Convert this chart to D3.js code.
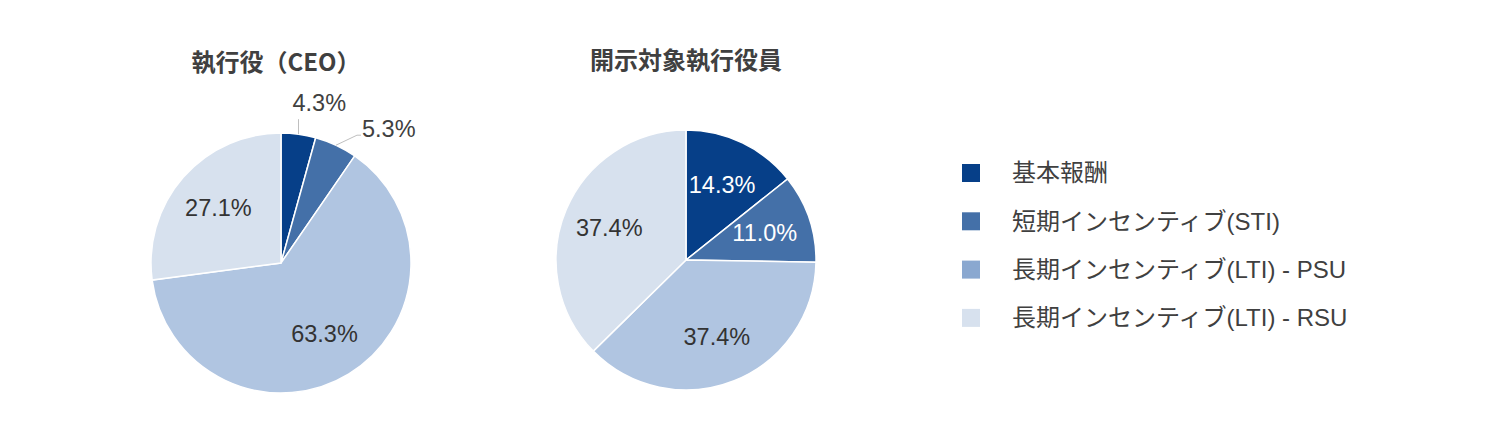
<!DOCTYPE html>
<html>
<head>
<meta charset="utf-8">
<script src="https://cdn.jsdelivr.net/npm/d3@7"></script>
<style>
  body { margin: 0; background: #fff; }
  text { font-family: "Liberation Sans", Arial, "Noto Sans CJK JP", sans-serif; }
</style>
</head>
<body>
<svg id="chart" width="1500" height="444"></svg>
<script>
var categories = ['基本報酬', '短期インセンティブ(STI)', '長期インセンティブ(LTI) - PSU', '長期インセンティブ(LTI) - RSU'];
var chartTitles = ['執行役（CEO）', '開示対象執行役員'];
var ceoValues = [4.3, 5.3, 63.3, 27.1];
var officerValues = [14.3, 11.0, 37.4, 37.4];
var sliceColors = ['#063f88', '#4470a8', '#b0c5e1', '#d7e1ee'];
var legendColors = ['#063f88', '#4470a8', '#8aa8d0', '#d7e1ee'];
var labelColors = [['#404040', '#404040', '#333', '#333'], ['#fff', '#fff', '#333', '#333']];

var svg = d3.select('#chart');
var radius = 130;
var fontSize = 23.5;

// one pie per panel
var panels = [
  {title: chartTitles[0], values: ceoValues, cx: 281, cy: 263, titleX: 276, titleY: 71, labelR: 0.64},
  {title: chartTitles[1], values: officerValues, cx: 686, cy: 260, titleX: 686, titleY: 69, labelR: 0.64}
];

var pie = d3.pie().sort(null).value(function(d){ return d; });
var arc = d3.arc().innerRadius(0).outerRadius(radius);

panels.forEach(function(p, pi){
  svg.append('text')
    .attr('x', p.titleX)
    .attr('y', p.titleY)
    .attr('text-anchor', 'middle')
    .attr('font-size', 24)
    .attr('font-weight', 'bold')
    .attr('fill', '#404040')
    .style('font-family', '"Noto Sans CJK JP", sans-serif')
    .text(p.title);

  var g = svg.append('g')
    .attr('transform', 'translate(' + p.cx + ',' + p.cy + ')');

  var arcs = pie(p.values);

  g.selectAll('path.slice')
    .data(arcs)
    .enter()
    .append('path')
    .attr('class', 'slice')
    .attr('d', arc)
    .attr('fill', function(d, i){ return sliceColors[i]; })
    .attr('stroke', '#fff')
    .attr('stroke-width', 1.5);

  var labelArc = d3.arc().innerRadius(radius * p.labelR).outerRadius(radius * p.labelR);

  arcs.forEach(function(d, i){
    var txt = d.data.toFixed(1) + '%';
    var mid = (d.startAngle + d.endAngle) / 2;
    if (d.data < 8) {
      // small slice: label outside with a leader line
      var x0 = Math.sin(mid) * radius, y0 = -Math.cos(mid) * radius;
      if (mid < 0.25) {
        g.append('line')
          .attr('x1', x0).attr('y1', y0)
          .attr('x2', x0).attr('y2', y0 - 15)
          .attr('stroke', '#bfbfbf').attr('stroke-width', 1);
        g.append('text')
          .attr('x', x0 - 6)
          .attr('y', y0 - 23)
          .attr('font-size', fontSize)
          .attr('fill', labelColors[pi][i])
          .text(txt);
      } else {
        var x1 = x0 + 21, y1 = y0 - 10;
        g.append('polyline')
          .attr('points', [[x0, y0], [x1, y1], [x1 + 4, y1]].join(' '))
          .attr('fill', 'none')
          .attr('stroke', '#bfbfbf').attr('stroke-width', 1);
        g.append('text')
          .attr('x', x1 + 5)
          .attr('y', y1 + 2)
          .attr('font-size', fontSize)
          .attr('fill', labelColors[pi][i])
          .text(txt);
      }
    } else {
      var c = labelArc.centroid(d);
      g.append('text')
        .attr('x', c[0])
        .attr('y', c[1])
        .attr('dy', '0.35em')
        .attr('text-anchor', 'middle')
        .attr('font-size', fontSize)
        .attr('fill', labelColors[pi][i])
        .text(txt);
    }
  });
});

// legend
var legend = svg.append('g').attr('transform', 'translate(962,173)');
var legendRows = legend.selectAll('g')
  .data(categories)
  .enter()
  .append('g')
  .attr('transform', function(d, i){ return 'translate(0,' + (i * 48.3) + ')'; });

legendRows.append('rect')
  .attr('x', 0)
  .attr('y', -9)
  .attr('width', 18)
  .attr('height', 18)
  .attr('fill', function(d, i){ return legendColors[i]; });

legendRows.append('text')
  .attr('x', 50)
  .attr('y', 0)
  .attr('dy', '0.35em')
  .attr('font-size', 24)
  .attr('fill', '#404040')
  .text(function(d){ return d; });
</script>
</body>
</html>
